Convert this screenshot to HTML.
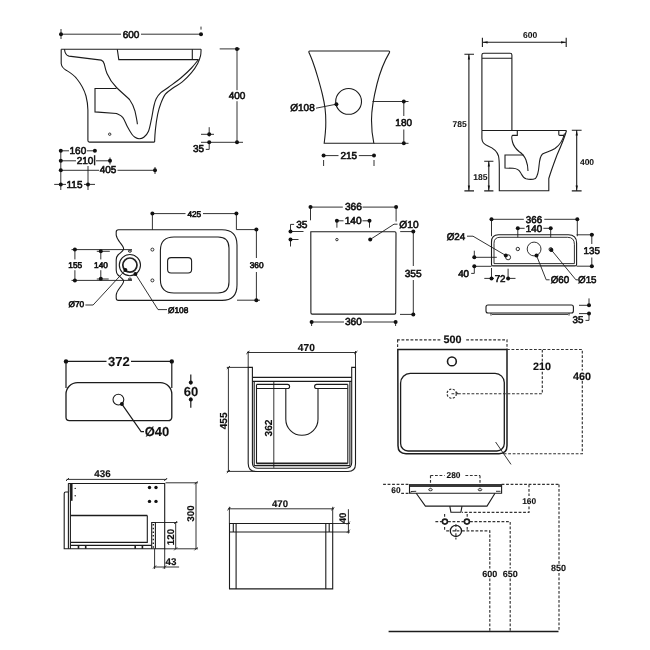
<!DOCTYPE html>
<html><head><meta charset="utf-8"><style>
html,body{margin:0;padding:0;background:#fff;width:650px;height:650px;overflow:hidden}
svg{display:block;will-change:transform;text-rendering:geometricPrecision}
.l{stroke:#1c1c1c;stroke-width:1.1;fill:none}
.d{stroke:#1c1c1c;stroke-width:0.9;fill:none}
.ds{stroke:#333;stroke-width:1.15;fill:none;stroke-dasharray:2.8 1.7}
.t{font-family:"Liberation Sans",sans-serif;font-size:10px;fill:#111;stroke:#111;stroke-width:0.6;text-anchor:middle}
.ts{font-family:"Liberation Sans",sans-serif;font-size:8.6px;fill:#111;stroke:#111;stroke-width:0.25;text-anchor:middle}
.dot{fill:#111}
.tm{font-family:"Liberation Sans",sans-serif;font-size:10.8px;fill:#111;stroke:#111;stroke-width:0.35;text-anchor:middle}
.tl{font-family:"Liberation Sans",sans-serif;font-size:12px;fill:#111;stroke:#111;stroke-width:0.4;text-anchor:middle}
#d3 .ts{font-size:8.5px;font-weight:bold;stroke-width:0.05}
#d4 .t{font-size:8.3px}
#d5 .t{font-size:10.2px}
#d6 .t{font-size:9.8px}
#d7 .d{stroke-width:1.2}
#d7 .tl{font-size:13px;font-weight:bold;stroke-width:0.1}
#d8 .tm{font-size:10.2px;font-weight:bold;stroke-width:0.15}
#d9 .tm{font-size:10.8px;font-weight:bold;stroke-width:0.15}
#d10 .tm{font-size:9.8px;font-weight:bold;stroke-width:0.15}
#d11 .tm{font-size:9.6px;font-weight:bold;stroke-width:0.15}
#d12 .ts{font-size:8.4px;font-weight:bold;stroke-width:0.1}
#d12 .tb{font-size:9px;font-weight:bold;stroke-width:0.1}
#d3 .d{stroke-width:1.1}
</style></head><body>
<svg width="650" height="650" viewBox="0 0 650 650">
<!-- ============ D1: wall hung side view ============ -->
<g id="d1">
<path class="l" d="M61.2,49.3 L201.1,49.3"/>
<path class="l" d="M61.2,49.3 L61.2,63.5 C61.5,66 63,68.5 66.5,70.4 C70,72.5 74,75 77,79 C81,84 84,89 86,96 C87.3,101 87.8,106 87.9,110 L87.9,140.6 Q87.9,142.1 89.4,142.1 L154.6,142.1"/>
<path class="l" d="M201.1,49.3 C201.0,50.4 201.1,53.4 200.5,55.8 C199.9,58.2 199.2,60.7 197.7,63.5 C196.2,66.3 194.1,69.6 191.5,72.7 C188.9,75.8 185.4,79.4 182.3,81.9 C179.2,84.5 175.8,86.0 173.0,88.0 C170.2,90.0 167.4,91.6 165.4,94.2 C163.4,96.8 162.1,100.2 160.8,103.5 C159.5,106.8 158.6,109.9 157.7,114.2 C156.8,118.5 155.9,125.0 155.4,129.6 C154.9,134.2 154.7,139.8 154.6,142.1"/>
<path class="l" d="M198.5,59.6 C197.3,61.0 194.4,64.9 191.5,68.0 C188.6,71.1 184.6,74.8 180.8,78.0 C177.0,81.2 171.8,84.8 168.5,87.3 C165.2,89.8 162.9,90.8 160.8,92.7 C158.8,94.6 157.4,96.5 156.2,98.8 C155.0,101.1 154.6,103.2 153.8,106.5 C153.0,109.8 152.4,114.7 151.5,118.8 C150.6,122.9 149.8,128.1 148.5,131.2 C147.2,134.3 145.4,136.0 143.8,137.3 C142.2,138.6 140.7,138.8 139.2,138.8 C137.7,138.8 136.2,138.1 135.0,137.3 C133.8,136.5 133.2,136.0 131.9,134.2 C130.6,132.4 128.8,129.3 127.3,126.5 C125.8,123.7 124.5,119.5 122.7,117.3 C120.9,115.1 117.5,114.1 116.5,113.5 L95,111.9 L95,88.5 L116.5,88.5"/>
<path class="l" d="M64.5,49.3 C64.8,53 66,55.5 69,56.1 L101.2,60.1 C103,60.6 103.8,62 104.3,64 C105,67 105.5,70 107,73.5 C109,78 112,83 116.5,87.5 C121,92 126,96 129.5,99.5 C132,103 134,107 135,111.2 C136,116 137,120 137.4,124.2"/>
<path class="l" d="M117.3,49.3 L118.8,59.6 L198.5,59.6 M192.3,49.3 L192.3,59.6"/>
<circle class="d" cx="109.7" cy="134.2" r="1.2"/>
<!-- 600 -->
<path class="d" d="M61,34.2 L121,34.2 M141,34.2 L201,34.2 M61,29 L61,39 M201,26.6 L201,29.6"/>
<circle class="dot" cx="61" cy="34.2" r="2"/><circle class="dot" cx="201" cy="34.2" r="2"/>
<text class="t" x="131" y="37.6">600</text>
<!-- 400 -->
<path class="d" d="M219.7,48.9 L240,48.9 M201,142.3 L243,142.3 M237,48.9 L237,90.2 M237,101.2 L237,142.3"/>
<circle class="dot" cx="237" cy="48.9" r="2"/><circle class="dot" cx="237" cy="142.3" r="2"/>
<text class="t" x="237" y="98.8">400</text>
<!-- 35 -->
<path class="d" d="M201,134.3 L214,134.3 M209.2,127.2 L209.2,136.5 M209.2,142.2 L209.2,149.4 L205.8,149.4"/>
<circle class="dot" cx="209.2" cy="134.3" r="2"/><circle class="dot" cx="209.2" cy="142.2" r="2"/>
<text class="t" x="198.5" y="152.1">35</text>
<!-- bottom dims -->
<path class="d" d="M60.8,150 L60.8,190 M88,166 L88,190 M54.2,184.4 L66,184.4 M84,184.4 L95,184.4"/>
<path class="d" d="M60.8,150.8 L69,150.8 M87,150.8 L94.9,150.8"/>
<path class="d" d="M60.8,160.8 L76,160.8 M96,160.8 L110,160.8 M110,157.5 L110,164.5"/>
<path d="M94.6,155.2 L94.6,165.3" stroke="#1c1c1c" stroke-width="1.4"/>
<path class="d" d="M60.8,170.3 L99,170.3 M117.5,170.3 L155,170.3 M155,167 L155,174"/>
<circle class="dot" cx="60.8" cy="150.8" r="2"/><circle class="dot" cx="94.9" cy="150.8" r="2"/>
<circle class="dot" cx="60.8" cy="160.8" r="2"/><circle class="dot" cx="110" cy="160.8" r="2"/>
<circle class="dot" cx="60.8" cy="170.3" r="2"/><circle class="dot" cx="155" cy="170.3" r="2"/>
<circle class="dot" cx="60.8" cy="184.4" r="2"/><circle class="dot" cx="88" cy="184.4" r="2"/>
<text class="t" x="77.9" y="154.2">160</text>
<text class="t" x="85" y="164.2">210</text>
<text class="t" x="108" y="173.3">405</text>
<text class="t" x="74.5" y="187.6">115</text>
</g>
<!-- ============ D2: front view ============ -->
<g id="d2">
<path class="l" d="M309.8,51 L388.6,51 C389.6,51 389.9,51.6 389.4,52.6 C385,60 380,72 377,84 C374,96 371.5,108 371.5,120 C371.5,130 372.5,137 373.8,143.2 L324.2,143.2 C324.4,141.5 325.0,136.5 325.3,133.0 C325.6,129.5 325.9,126.2 325.8,122.0 C325.8,117.8 325.6,112.7 325.0,108.0 C324.4,103.3 323.5,99.1 322.3,94.0 C321.1,88.9 319.4,82.8 317.8,77.3 C316.2,71.8 314.0,65.1 312.5,61.0 C311.0,56.9 309.6,53.9 309.0,52.5 C308.6,51.6 308.9,51 309.8,51 Z"/>
<circle class="l" cx="348.6" cy="101.4" r="12.9"/>
<path class="d" d="M316,108.2 L336.4,104.2"/>
<circle class="dot" cx="336.4" cy="104.2" r="2"/>
<text class="t" x="302.5" y="110.9">Ø108</text>
<path class="d" d="M372.5,101.5 L408.5,101.5 M373.8,143.3 L408.5,143.3 M403.8,101.5 L403.8,116 M403.8,129.5 L403.8,143.3"/>
<circle class="dot" cx="403.8" cy="101.5" r="2"/><circle class="dot" cx="403.8" cy="143.3" r="2"/>
<text class="t" x="403.7" y="126.1">180</text>
<path class="d" d="M323.6,155.6 L338.5,155.6 M358.8,155.6 L374,155.6 M323.6,160 L323.6,166 M374,160 L374,166"/>
<circle class="dot" cx="323.6" cy="155.6" r="2"/><circle class="dot" cx="374" cy="155.6" r="2"/>
<text class="t" x="348.8" y="159.3">215</text>
</g>
<!-- ============ D3: close coupled side ============ -->
<g id="d3">
<path class="l" d="M481.9,130.5 L481.9,55 Q481.9,53.2 483.7,53.2 L510.1,53.2 Q511.9,53.2 511.9,55 L511.9,130.5 M481.9,58.3 L511.9,58.3"/>
<path class="l" d="M481.9,130.5 L566.5,130.5 M481.9,130.5 L481.9,138.5 C482,142 484,144.5 488,146 C493,148 497,151 498.5,156 C499.2,159 499.3,163 499.3,168 L499.3,190.8 L548.8,190.8 L548.8,178.5 C551,171 554,163 557,155 C561,146 564.5,138 566.5,130.5"/>
<path class="l" d="M558.8,130.5 L558.8,134.5 Q558.8,135.4 559.8,135.4 L564.5,135.4 M564.5,133.5 C563,140 560,145 555,148.5 C551,151 546,152 542.5,154 C540,156 539.5,160 539,166 C538.6,171 537.5,176 535.5,178.5 C533,179.5 529,179.5 526,178.8 C523,178 522,175 520.5,172.5 C519,170 517,168.5 513,168.3 L505,168 L505,155 L523.5,155"/>
<path class="l" d="M517.3,130.5 L517.3,135.4 L512.5,135.4 C511.5,136 511.7,139 512.5,142 C513.5,146 516,149 519,151.5 C522,153.5 524.5,156 526,160 C527.5,164 528,168 528,171"/>
<!-- dims -->
<path class="d" d="M482.4,37.7 L482.4,46.9 M566.2,37.7 L566.2,46.9 M483,42.3 L565.6,42.3"/>
<path class="dot" d="M482.6,42.3 L487.6,41.15 L487.6,43.45 Z M566,42.3 L561,41.15 L561,43.45 Z"/>
<text class="ts" x="530.2" y="38.3">600</text>
<path class="d" d="M464.4,54.3 L474,54.3 M464.4,190.9 L474,190.9 M468.9,54.5 L468.9,190.7"/>
<path class="dot" d="M468.9,54.6 L467.8,59.6 L470.0,59.6 Z M468.9,190.6 L467.8,185.4 L470.0,185.4 Z"/>
<text class="ts" x="459.6" y="127.1">785</text>
<path class="d" d="M484.2,161.2 L493.4,161.2 M484.2,190.9 L493.4,190.9 M488.8,161.4 L488.8,190.7"/>
<path class="dot" d="M488.8,161.5 L487.7,166.5 L489.9,166.5 Z M488.8,190.6 L487.7,185.4 L489.9,185.4 Z"/>
<text class="ts" x="480.3" y="179.8">185</text>
<path class="d" d="M571.8,130.2 L581.6,130.2 M571.8,190.9 L581.6,190.9 M576.7,130.4 L576.7,190.7"/>
<path class="dot" d="M576.7,130.5 L575.6,135.5 L577.9,135.5 Z M576.7,190.6 L575.6,185.4 L577.9,185.4 Z"/>
<text class="ts" x="587" y="164.7">400</text>
</g>
<!-- ============ D4: top view ============ -->
<g id="d4">
<path class="l" d="M118.5,229.8 L222,229.8 Q237,229.8 237,245 L237,285 Q237,300.4 222,300.4 L118.5,300.4 Q116.2,300.4 116.2,298 L116.2,295 C116.5,292 118,290 120,287.5 C122.5,284.5 124.2,282.5 123.5,280.5 C122.5,278.5 120,277 118,275 C116.5,273.5 116.2,272 116.2,270 L116.2,260 C116.2,258 116.5,256.5 118,255 C120,253 122.5,251.5 123.5,249.5 C124.2,247.5 122.5,245.5 120,242.5 C118,240 116.5,238 116.2,235 L116.2,232 Q116.2,229.8 118.5,229.8 Z"/>
<path class="l" d="M174,237 L218,237 Q229,237 229,248 L229,282 Q229,293 218,293 L174,293 Q160.4,293 160.4,279.5 L160.4,250.5 Q160.4,237 174,237 Z"/>
<rect class="l" x="167.6" y="257.6" width="24" height="15.4" rx="3.5"/>
<circle class="d" cx="152.4" cy="249.6" r="1.5"/><circle class="d" cx="152.4" cy="280.4" r="1.5"/>
<circle class="l" cx="129.9" cy="265.1" r="10.6"/>
<circle cx="129.9" cy="265.1" r="7.1" fill="none" stroke="#222" stroke-width="1.7"/>
<path class="d" d="M128.3,250.7 L131.5,250.7 A1.6,1.6 0 0 1 128.3,250.7 Z M128.3,279.6 L131.5,279.6 A1.6,1.6 0 0 0 128.3,279.6 Z"/>
<!-- dims -->
<path class="d" d="M152.4,213.6 L152.4,229.8 M152.4,213.6 L185.5,213.6 M203,213.6 L236.4,213.6 M236.4,213.6 L236.4,229.6 L258,229.6"/>
<circle class="dot" cx="152.4" cy="213.6" r="2"/><circle class="dot" cx="236.4" cy="213.6" r="2"/>
<text class="t" x="194.3" y="216.6">425</text>
<path class="d" d="M237,300.2 L260,300.2 M256.4,229.6 L256.4,258 M256.4,272 L256.4,300.2"/>
<circle class="dot" cx="256.4" cy="229.6" r="2"/><circle class="dot" cx="256.4" cy="300.2" r="2"/>
<text class="t" x="256.6" y="268.1">360</text>
<path class="d" d="M71.5,249.6 L132,249.6 M71.5,280.4 L132,280.4 M96.8,251.3 L109.8,251.3 M96.8,279 L108.7,279 M74.9,249.6 L74.9,259.4 M74.9,270.2 L74.9,280.4 M100.8,251.2 L100.8,259.4 M100.8,270.2 L100.8,278.8"/>
<circle class="dot" cx="74.9" cy="249.6" r="2"/><circle class="dot" cx="74.9" cy="280.4" r="2"/>
<circle class="dot" cx="100.8" cy="251.2" r="2"/><circle class="dot" cx="100.8" cy="278.8" r="2"/>
<text class="t" x="75.2" y="268.3">155</text>
<text class="t" x="101" y="268.3">140</text>
<path class="d" d="M125.4,270.1 L93.1,305 L85.4,305 M135.4,273.9 L158,309.6 L167,309.6"/>
<circle class="dot" cx="125.4" cy="270.1" r="2"/><circle class="dot" cx="135.4" cy="273.9" r="2"/>
<text class="t" x="76.3" y="307.4">Ø70</text>
<text class="t" x="178.2" y="313.4">Ø108</text>
</g>
<!-- ============ D5: seat/cistern lid ============ -->
<g id="d5">
<path class="l" d="M310.8,231.7 L394.8,231.7 Q396,231.7 396,233 L395.7,312.8 Q395.7,314.1 394.4,314.1 L312.2,314.1 Q310.9,314.1 310.9,312.8 Z"/>
<circle class="d" cx="336.9" cy="239.6" r="1.2"/>
<path class="d" d="M310.5,207.1 L342.8,207.1 M362.5,207.1 L396.1,207.1 M310.5,207.1 L310.5,220.3 M396.1,207.1 L396.1,221.5"/>
<circle class="dot" cx="310.5" cy="207.1" r="2"/><circle class="dot" cx="396.1" cy="207.1" r="2"/>
<text class="t" x="353.4" y="210.3">366</text>
<path class="d" d="M336.9,220.8 L343.5,220.8 M362.5,220.8 L369.5,220.8 M336.9,220.8 L336.9,227.7 M369.5,220.8 L369.5,227.7"/>
<circle class="dot" cx="336.9" cy="220.8" r="2"/><circle class="dot" cx="369.5" cy="220.8" r="2"/>
<text class="t" x="353.2" y="223.9">140</text>
<path class="d" d="M290.5,224.4 L294.1,224.4 M290.5,224.4 L290.5,231.5 M290.5,239.5 L290.5,246.5 M290.5,231.5 L303.5,231.5 M290.5,239.5 L298.5,239.5"/>
<circle class="dot" cx="290.5" cy="231.5" r="2"/><circle class="dot" cx="290.5" cy="239.5" r="2"/>
<text class="t" x="301.8" y="227.7">35</text>
<path class="d" d="M370.2,239.5 L394,224.2 L397.5,224.2"/>
<circle class="dot" cx="370.2" cy="239.5" r="2"/>
<text class="t" x="409" y="227.7">Ø10</text>
<path class="d" d="M400.2,231.6 L415,231.6 M400,314.4 L415,314.4 M413.3,231.6 L413.3,266 M413.3,280 L413.3,314.4"/>
<circle class="dot" cx="413.3" cy="231.6" r="2"/><circle class="dot" cx="413.3" cy="314.4" r="2"/>
<text class="t" x="413.2" y="276.7">355</text>
<path class="d" d="M311.6,322 L344,322 M363,322 L395.6,322 M311.6,322 L311.6,326 M395.6,322 L395.6,326"/>
<circle class="dot" cx="311.6" cy="322" r="2"/><circle class="dot" cx="395.6" cy="322" r="2"/>
<text class="t" x="353.4" y="325.1">360</text>
</g>
<!-- ============ D6: cistern top ============ -->
<g id="d6">
<path class="l" d="M498.5,234.8 L568.3,234.8 Q576.6,234.8 576.6,243 L576.6,264.4 Q576.6,265.9 575,265.9 L493,265.9 Q491.5,265.9 491.5,264.4 L491.5,242 Q491.5,234.8 498.5,234.8 Z"/>
<path class="d" d="M500,237.3 L567.5,237.3 Q574.4,237.3 574.4,244.3 L574.4,263.6 L494,263.6 L494,243.3 Q494,237.3 500,237.3 Z"/>
<circle class="d" cx="508.1" cy="257.3" r="2.5"/>
<circle class="d" cx="517.8" cy="249" r="1.7"/>
<circle class="d" cx="534.1" cy="249" r="6.9"/>
<circle class="d" cx="550.7" cy="249.3" r="1.7"/>
<path class="d" d="M491.5,219.3 L523.8,219.3 M544.3,219.3 L577.3,219.3 M491.5,219.3 L491.5,236.2 M577.3,219.3 L577.3,236.2"/>
<circle class="dot" cx="491.5" cy="219.3" r="2"/><circle class="dot" cx="577.3" cy="219.3" r="2"/>
<text class="t" x="534" y="222.6">366</text>
<path class="d" d="M517.8,228.3 L524.6,228.3 M543.4,228.3 L550.7,228.3 M517.8,228.3 L517.8,237.3 M550.7,228.3 L550.7,237.3"/>
<circle class="dot" cx="517.8" cy="228.3" r="2"/><circle class="dot" cx="550.7" cy="228.3" r="2"/>
<text class="t" x="534" y="231.8">140</text>
<path class="d" d="M505.8,255.5 L473,236.2 L467,236.2"/>
<circle class="dot" cx="505.8" cy="255.5" r="2"/>
<text class="t" x="456" y="239.8">Ø24</text>
<path class="d" d="M474.3,257.3 L496.8,257.3 M474.3,266.3 L491.5,266.3 M474.3,250.7 L474.3,257.3 M474.3,266.3 L474.3,273.4 L471.2,273.4"/>
<circle class="dot" cx="474.3" cy="257.3" r="2"/><circle class="dot" cx="474.3" cy="266.3" r="2"/>
<text class="t" x="463.6" y="277">40</text>
<path class="d" d="M484.3,278.4 L494,278.4 M506.5,278.4 L515.5,278.4 M491.5,268 L491.5,278.4 M508.1,268.7 L508.1,278.4"/>
<circle class="dot" cx="491.5" cy="278.4" r="2"/><circle class="dot" cx="508.1" cy="278.4" r="2"/>
<text class="t" x="500.1" y="282.1">72</text>
<path class="d" d="M536.5,255.5 L546.2,279.8 L549.6,279.8 M551.4,250 L575.9,279.8 L578,279.8"/>
<circle class="dot" cx="536.5" cy="255.5" r="2"/><circle class="dot" cx="551.4" cy="250" r="2"/>
<text class="t" x="560" y="282.5">Ø60</text>
<text class="t" x="587.3" y="282.5">Ø15</text>
<path class="d" d="M576.6,234.8 L594,234.8 M576.6,266.2 L594,266.2 M591.8,234.8 L591.8,244 M591.8,257.5 L591.8,266.2"/>
<circle class="dot" cx="591.8" cy="234.8" r="2"/><circle class="dot" cx="591.8" cy="266.2" r="2"/>
<text class="t" x="591.7" y="253.9">135</text>
<!-- lid -->
<path class="l" d="M488,305 L571.4,305 Q573.4,305 573.4,307 L573.4,311 Q573.4,313 571.4,313 L488,313 Q486,313 486,311 L486,307 Q486,305 488,305 Z"/>
<path class="d" d="M491,313 L491,315.6 M492,314.4 L568,314.4 M569,313 L569,315.6"/>
<path class="d" d="M579,305.3 L589,305.3 M579,313.6 L589,313.6 M589,298.4 L589,305.3 M589,313.6 L589,320.4 L585.5,320.4"/>
<circle class="dot" cx="589" cy="305.3" r="2"/><circle class="dot" cx="589" cy="313.6" r="2"/>
<text class="t" x="578" y="323.1">35</text>
</g>
<!-- ============ D7: basin top small ============ -->
<g id="d7">
<path class="l" style="stroke-width:1.3" d="M77.5,382.6 L160.3,382.6 A11.5,11.5 0 0 1 171.8,394.1 L171.8,417.3 A3.4,3.4 0 0 1 168.4,420.7 L69.4,420.7 A3.4,3.4 0 0 1 66,417.3 L66,394.1 A11.5,11.5 0 0 1 77.5,382.6 Z"/>
<circle class="l" cx="118.4" cy="399.6" r="5.4"/>
<path class="d" d="M121.9,404.1 L141.1,431.6 L144,431.6"/>
<circle class="dot" cx="121.9" cy="404.1" r="2"/>
<text class="tl" x="157" y="436.0">Ø40</text>
<path class="d" d="M66,361.4 L106.5,361.4 M131,361.4 L171.8,361.4 M66,361.7 L66,388 M171.8,361.7 L171.8,388"/>
<circle class="dot" cx="66" cy="361.4" r="2.2"/><circle class="dot" cx="171.8" cy="361.4" r="2.2"/>
<text class="tl" x="118.9" y="365.6">372</text>
<path class="d" d="M190.8,374.5 L190.8,384.5 M190.8,397.5 L190.8,407.8"/>
<circle class="dot" cx="190.8" cy="382.4" r="2"/><circle class="dot" cx="190.8" cy="399.6" r="2"/>
<text class="tl" x="191" y="396.2">60</text>
</g>
<!-- ============ D8: vanity front ============ -->
<g id="d8">
<path class="l" d="M248.2,367.4 L248.2,463.5 Q248.2,471.5 256.2,471.5 L348,471.5 Q355.5,471.5 355.5,464 L355.5,367.4 L351.7,367.4 L351.7,462.5 Q351.7,468.2 346,468.2 L258,468.2 Q252.4,468.2 252.4,462.5 L252.4,367.4 Z"/>
<path class="l" d="M252.4,377.4 L351.7,377.4 M252.4,381.4 L351.7,381.4"/>
<path class="l" d="M254.2,381.4 L254.2,465.5 M256.5,384.4 L256.5,463.5 M347.8,384.4 L347.8,463.5 M349.9,381.4 L349.9,465.5 M254.2,465.6 L349.9,465.6"/>
<path d="M256.5,463.4 L347.8,463.4" stroke="#222" stroke-width="1.6"/>
<path class="l" d="M256.5,384.4 L287.5,384.4 Q289.6,384.4 289.6,386.45 Q289.6,388.5 287.5,388.5 L256.5,388.5 M347.8,384.4 L316.7,384.4 Q314.6,384.4 314.6,386.45 Q314.6,388.5 316.7,388.5 L347.8,388.5"/>
<path class="l" d="M285.8,388.5 L285.8,419.2 A16.1,16.1 0 0 0 318,419.2 L318,388.5"/>
<path class="d" d="M273.8,381.4 L273.8,467.8"/>
<path class="d" d="M247,352.5 L356.5,352.5 M248.2,351 L248.2,367.4 M355.5,351 L355.5,367.4 M246.3,354 L249.5,351 M354.2,354 L357.4,351"/>
<text class="tm" x="306.3" y="350.5">470</text>
<path class="d" d="M226.8,367.4 L248.2,367.4 M226.8,471.4 L256.5,471.4 M228.4,367.4 L228.4,471.4 M226.8,369 L230,366 M226.8,473 L230,470"/>
<text class="tm" transform="translate(227.4,420.8) rotate(-90)" x="0" y="0">455</text>
<text class="tm" transform="translate(272.1,428) rotate(-90)" x="0" y="0">362</text>
</g>
<!-- ============ D9: basin top ============ -->
<g id="d9">
<path class="l" style="stroke-width:1.5" d="M397.8,349.5 L507,349.5 L507,445.8 Q507,453.7 499,453.7 L406,453.7 Q398,453.7 398,445.8 Z"/>
<path class="l" style="stroke-width:1.3" d="M410.2,373.4 L495.1,373.4 A9.2,9.2 0 0 1 504.3,382.6 L504.3,443.6 A7.4,7.4 0 0 1 496.9,451 L408,451 A7.4,7.4 0 0 1 400.6,443.6 L400.6,383 A9.6,9.6 0 0 1 410.2,373.4 Z"/>
<circle class="l" style="stroke-width:1.6" cx="451.9" cy="361.4" r="4.4"/>
<circle class="ds" style="stroke-dasharray:2.2 1.5;stroke-width:1.2" cx="451.7" cy="393.7" r="4.6"/>
<path class="ds" d="M451.5,393.7 L455,393.7 M456.2,391.8 L457.6,393.7 L456.2,395.6"/>
<path class="ds" d="M458,393.7 L542.3,393.7 L542.3,371.8 M542.3,361.5 L542.3,349.5 M507,349.5 L582.3,349.5 L582.3,370.5 M582.3,381 L582.3,453.7 L503,453.7"/>
<path class="ds" d="M397,339.8 L441,339.8 M466.2,339.8 L507,339.8 L507,349.5 M397.6,339.8 L397.6,348"/>
<text class="tm" x="452.6" y="343.3">500</text>
<text class="tm" x="542.1" y="370.4">210</text>
<text class="tm" x="582" y="379.5">460</text>
<path class="d" d="M495.6,442 L511,464.4"/>
</g>
<!-- ============ D10: vanity side ============ -->
<g id="d10">
<path class="l" d="M68.2,483.5 L164.7,483.5 L164.7,548.8 L64.2,548.8 L64.2,493.5 Q64.2,492 65.7,492 L68.2,492"/>
<path class="l" d="M68.4,483.5 L68.4,548.8 M70.4,483.5 L70.4,548.8"/>
<rect x="68.9" y="484" width="1.1" height="8" fill="#bbb"/>
<path d="M71.7,483.8 L71.7,500.8" stroke="#1c1c1c" stroke-width="1.7"/>
<circle class="dot" cx="75.2" cy="488.4" r="0.7"/><circle class="dot" cx="75.2" cy="495.7" r="0.7"/>
<circle class="dot" cx="149.5" cy="487.5" r="1.7"/><circle class="dot" cx="156" cy="487.5" r="1.7"/>
<circle class="dot" cx="149.5" cy="501.4" r="1.7"/><circle class="dot" cx="156" cy="501.4" r="1.7"/>
<path d="M70.8,515.6 L147.3,515.6" stroke="#1c1c1c" stroke-width="1.5"/>
<path class="l" d="M147.3,515.6 L147.3,542.4 L71,542.4 M71,545.4 L151.7,545.4"/>
<path class="l" d="M151.7,548.8 L151.7,522.5 L155.4,522.5 L155.4,548.8"/>
<path d="M153.3,524 L153.3,548" stroke="#222" stroke-width="1.4" stroke-dasharray="1.5 2.2"/>
<path d="M78.5,545.4 L78.5,548.8 M85.7,545.4 L85.7,548.8 M135.2,545.4 L135.2,548.8 M142.4,545.4 L142.4,548.8" stroke="#1c1c1c" stroke-width="1.6"/>
<path class="d" d="M66.5,479.4 L166.5,479.4 M66,481 L69,478 M164.2,481 L167.2,478"/>
<text class="tm" x="102.5" y="477.4">436</text>
<path class="d" d="M165.6,482.8 L198,482.8 M164.7,548.8 L198,548.8 M196,482.8 L196,548.8 M194.5,484.3 L197.5,481.3 M194.5,550.3 L197.5,547.3"/>
<text class="tm" transform="translate(193.6,513.6) rotate(-90)" x="0" y="0">300</text>
<path class="d" d="M155.4,522.5 L177.4,522.5 M175.7,522.5 L175.7,548.8 M174.2,524 L177.2,521 M174.2,550.3 L177.2,547.3"/>
<text class="tm" transform="translate(173.5,537) rotate(-90)" x="0" y="0">120</text>
<path class="d" d="M153.8,567 L179.1,567 M154.6,548.8 L154.6,569 M164.7,548.8 L164.7,569 M153.1,568.5 L156.1,565.5 M163.2,568.5 L166.2,565.5"/>
<text class="tm" x="170.9" y="564.8">43</text>
</g>
<!-- ============ D11: basin front ============ -->
<g id="d11">
<path class="l" d="M229.5,523.5 L332.7,523.5 L332.7,588.9 L229.5,588.9 Z M229.5,532 L332.7,532"/>
<path class="l" d="M233.3,523.5 L233.3,532 M236.1,523.5 L236.1,588.9 M325.8,523.5 L325.8,588.9 M329.2,523.5 L329.2,532"/>
<path class="d" d="M228,508.8 L334,508.8 M229.4,506.8 L229.4,523.5 M332.7,506.8 L332.7,523 M227.3,510.3 L230.3,507.3 M331.2,510.3 L334.2,507.3"/>
<text class="tm" x="280" y="506.8">470</text>
<path class="d" d="M332.7,523.5 L350,523.5 M332.7,532 L350,532 M348.4,509.2 L348.4,533.5 M346.9,524.6 L349.9,521.6 M346.9,532.7 L349.9,529.7"/>
<text class="tm" transform="translate(345.8,518)  rotate(-90)" x="0" y="0">40</text>
</g>
<!-- ============ D12: basin side + pipes ============ -->
<g id="d12">
<path d="M409.5,485.5 L501.6,485.5" stroke="#383838" stroke-width="2.8"/>
<path class="l" d="M409.5,484.2 L409.5,493.3 L501.6,493.3 L501.6,484.2"/>
<path class="d" d="M410.8,492.7 L411,491.5 L416.2,491.3 M496,491.3 L500.5,491.3"/>
<ellipse class="d" cx="430.5" cy="489.7" rx="1.8" ry="1.1"/>
<ellipse class="d" cx="480" cy="489.7" rx="1.8" ry="1.1"/>
<path class="l" d="M416.2,493.3 L425.4,506.1 L487,506.1 L495,493.3"/>
<path class="l" d="M449.8,506.1 L450.9,512.2 L460.9,512.2 L462,506.1"/>
<path class="ds" d="M430.5,475.5 L444.6,475.5 M465.4,475.5 L480,475.5 M430.5,475.5 L430.5,488 M480,475.5 L480,488"/>
<text class="ts" x="453.5" y="478.0">280</text>
<path class="ds" d="M383.1,484.4 L409.5,484.4 M401.2,493.4 L409.5,493.4 M501.6,484.4 L559,484.4 M529,484.4 L529,496 M529,506.5 L529,512.4 L462,512.4 M559,484.4 L559,564 M559,573 L559,631"/>
<text class="ts" x="396" y="492.8">60</text>
<text class="ts" x="529.2" y="503.5">160</text>
<circle class="l" style="stroke-width:1.6" cx="444.9" cy="521.6" r="2.5"/>
<circle class="l" style="stroke-width:1.6" cx="466.9" cy="521.6" r="2.5"/>
<circle class="l" style="stroke-width:1.3" cx="455.9" cy="530.9" r="5.6"/>
<path class="ds" d="M435.4,521.6 L442,521.6 M448,521.6 L464.4,521.6 M470,521.6 L510.2,521.6 L510.2,568.5 M510.2,578.5 L510.2,631 M446.2,530.9 L450,530.9 M462,530.9 L489.8,530.9 L489.8,568.5 M489.8,578.5 L489.8,631 M455.9,524.2 L455.9,539.6 M452.5,530.9 L459.3,530.9 M444.6,514 L444.6,517 M467.2,514 L467.2,517 M444.6,527 L444.6,530 M467.2,527 L467.2,530"/>
<text class="ts tb" x="489.7" y="577.0">600</text>
<text class="ts tb" x="510.2" y="577.0">650</text>
<text class="ts tb" x="558.6" y="570.9">850</text>
<path d="M388.6,631.5 L558.5,631.5" stroke="#1c1c1c" stroke-width="1.6"/>
</g>
</svg>
</body></html>
